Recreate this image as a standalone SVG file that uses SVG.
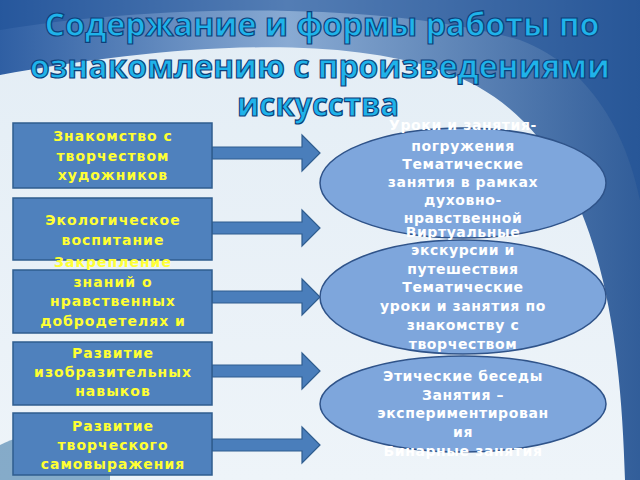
<svg xmlns="http://www.w3.org/2000/svg" width="640" height="480" viewBox="0 0 640 480">
<defs>
<linearGradient id="bg" x1="0" y1="0" x2="0" y2="1">
<stop offset="0" stop-color="#e3edf5"/><stop offset="1" stop-color="#eef4f9"/>
</linearGradient>
<linearGradient id="band" x1="0" y1="0" x2="1" y2="0">
<stop offset="0" stop-color="#1b4f9a"/><stop offset="0.45" stop-color="#7fa3cf"/><stop offset="1" stop-color="#1d4d8f"/>
</linearGradient>
<path id="arr" d="M0,-6 L90,-6 L90,-18 L108,0 L90,18 L90,6 L0,6 Z"/>
</defs>
<style>
.box{fill:#4f81bd;stroke:#2f5d8f;stroke-width:1.5}
.ell{fill:#7ea6dc;stroke:#2f5389;stroke-width:1.5}
.a{fill:#4a7ebb;stroke:#2f5d8f;stroke-width:1.2}
.yt{font-family:"DejaVu Sans",sans-serif;font-weight:bold;font-size:14px;letter-spacing:1px;fill:#ffff33;text-anchor:middle}
.wt{font-family:"DejaVu Sans",sans-serif;font-weight:bold;font-size:14px;letter-spacing:0.6px;fill:#ffffff;text-anchor:middle}
.tt{font-family:"Open Sans","Liberation Sans",sans-serif;font-weight:bold;font-size:33px;fill:#1fb3ea;stroke:#0d3f7a;stroke-width:1.2;text-anchor:middle}
</style>
<rect width="640" height="480" fill="url(#bg)"/>
<path d="M0,0 H640 V480 H625 C620,300 590,120 440,70 C320,30 140,50 0,75 Z" fill="url(#band)" opacity="0.9"/>
<path d="M0,30 C150,5 380,0 520,40 C600,70 630,150 640,200 V0 H0 Z" fill="#1e4f96" opacity="0.5"/>
<path d="M0,445 C40,425 80,435 110,465 L110,480 L0,480 Z" fill="#3f7aa8" opacity="0.6"/>
<g id="title">
<text class="tt" x="322" y="36" textLength="555" lengthAdjust="spacingAndGlyphs">Содержание и формы работы по</text>
<text class="tt" x="320" y="78" textLength="580" lengthAdjust="spacingAndGlyphs">ознакомлению с произведениями</text>
<text class="tt" x="318" y="116" textLength="162" lengthAdjust="spacingAndGlyphs">искусства</text>
</g>
<g id="connectors">
<use href="#arr" class="a" x="212" y="153"/>
<use href="#arr" class="a" x="212" y="228"/>
<use href="#arr" class="a" x="212" y="297"/>
<use href="#arr" class="a" x="212" y="371"/>
<use href="#arr" class="a" x="212" y="445"/>
</g>
<g id="e1"><ellipse class="ell" cx="463" cy="183" rx="143" ry="55"/>
<text class="wt" x="463" y="130">Уроки и занятия-</text><text class="wt" x="463" y="151">погружения</text><text class="wt" x="463" y="169">Тематические</text><text class="wt" x="463" y="187">занятия в рамках</text><text class="wt" x="463" y="205">духовно-</text><text class="wt" x="463" y="223">нравственной</text></g>
<g id="e2"><ellipse class="ell" cx="463" cy="297" rx="143" ry="57"/>
<text class="wt" x="463" y="237">Виртуальные</text><text class="wt" x="463" y="255">экскурсии и</text><text class="wt" x="463" y="274">путешествия</text><text class="wt" x="463" y="292">Тематические</text><text class="wt" x="463" y="311">уроки и занятия по</text><text class="wt" x="463" y="330">знакомству с</text><text class="wt" x="463" y="349">творчеством</text></g>
<g id="e3"><ellipse class="ell" cx="463" cy="404" rx="143" ry="48"/>
<text class="wt" x="463" y="381">Этические беседы</text><text class="wt" x="463" y="400">Занятия –</text><text class="wt" x="463" y="418">экспериментирован</text><text class="wt" x="463" y="437">ия</text><text class="wt" x="463" y="456">Бинарные занятия</text></g>
<g id="b1"><rect class="box" x="13" y="123" width="199" height="65"/>
<text class="yt" x="113" y="141">Знакомство с</text><text class="yt" x="113" y="161">творчеством</text><text class="yt" x="113" y="180">художников</text></g>
<g id="b2"><rect class="box" x="13" y="198" width="199" height="62"/>
<text class="yt" x="113" y="225">Экологическое</text><text class="yt" x="113" y="245">воспитание</text></g>
<g id="b3"><rect class="box" x="13" y="270" width="199" height="63"/>
<text class="yt" x="113" y="267">Закрепление</text><text class="yt" x="113" y="287">знаний о</text><text class="yt" x="113" y="306">нравственных</text><text class="yt" x="113" y="326">добродетелях и</text></g>
<g id="b4"><rect class="box" x="13" y="342" width="199" height="63"/>
<text class="yt" x="113" y="358">Развитие</text><text class="yt" x="113" y="377">изобразительных</text><text class="yt" x="113" y="396">навыков</text></g>
<g id="b5"><rect class="box" x="13" y="413" width="199" height="62"/>
<text class="yt" x="113" y="431">Развитие</text><text class="yt" x="113" y="450">творческого</text><text class="yt" x="113" y="469">самовыражения</text></g>
</svg>
